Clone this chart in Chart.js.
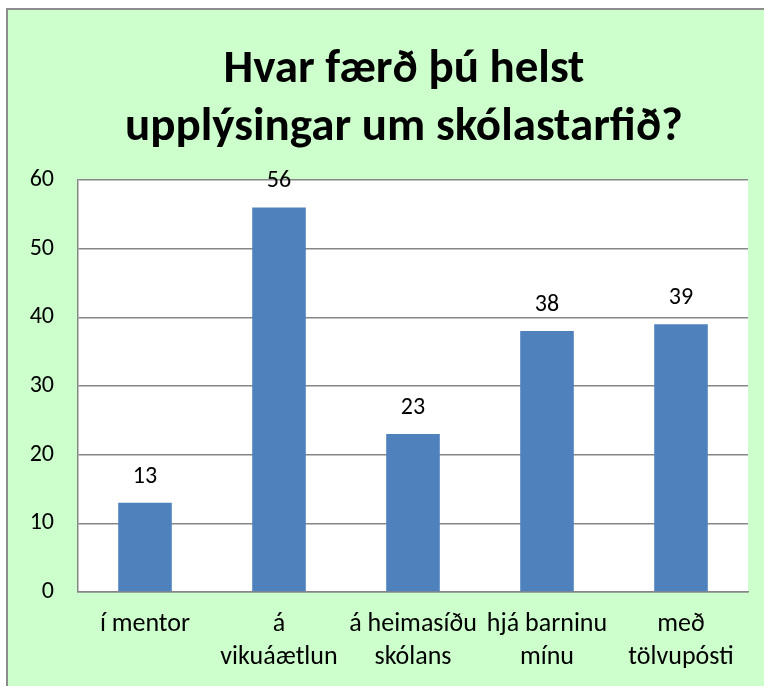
<!DOCTYPE html>
<html>
<head>
<meta charset="utf-8">
<script src="https://cdn.jsdelivr.net/npm/chart.js@4"></script>
<style>
  html, body { margin: 0; padding: 0; background: #ffffff; }
  #wrap { width: 764px; height: 686px; }
</style>
</head>
<body>
<div id="wrap"><canvas id="chart" width="764" height="686"></canvas></div>
<script>
const titleLines = ['Hvar færð þú helst', 'upplýsingar um skólastarfið?'];
const categories = ['í mentor', ['á', 'vikuáætlun'], ['á heimasíðu', 'skólans'], ['hjá barninu', 'mínu'], ['með', 'tölvupósti']];
const values = [13, 56, 23, 38, 39];
const yTicks = { min: 0, max: 60, step: 10 };

const fontFamily = 'Carlito, Lato, sans-serif';

// green frame behind everything
const frame = {
  id: 'frame',
  beforeDraw(chart) {
    const c = chart.ctx;
    c.save();
    c.fillStyle = '#ccffcc';
    c.fillRect(7, 9, 800, 700);
    c.strokeStyle = '#8c8c8c';
    c.lineWidth = 2;
    c.strokeRect(7, 9, 800, 700);
    c.restore();
  }
};

// white plot area
const plotBg = {
  id: 'plotBg',
  beforeDraw(chart) {
    const a = chart.chartArea;
    chart.ctx.save();
    chart.ctx.fillStyle = '#ffffff';
    chart.ctx.fillRect(a.left, a.top, a.right - a.left, a.bottom - a.top);
    chart.ctx.restore();
  }
};

// two line title
const titlePlugin = {
  id: 'titleText',
  afterDraw(chart) {
    const c = chart.ctx;
    c.save();
    c.fillStyle = '#000000';
    c.font = 'bold 47px ' + fontFamily;
    c.textAlign = 'center';
    c.textBaseline = 'middle';
    c.fillText(titleLines[0], 404, 70);
    c.fillText(titleLines[1], 404, 128);
    c.restore();
  }
};

// value above each bar
const barLabels = {
  id: 'barLabels',
  afterDatasetsDraw(chart) {
    const c = chart.ctx;
    const meta = chart.getDatasetMeta(0);
    c.save();
    c.fillStyle = '#000000';
    c.font = '24px ' + fontFamily;
    c.textAlign = 'center';
    c.textBaseline = 'middle';
    meta.data.forEach((bar, i) => {
      c.fillText(String(values[i]), bar.x, bar.y - 26);
    });
    c.restore();
  }
};

new Chart(document.getElementById('chart'), {
  type: 'bar',
  data: {
    labels: categories,
    datasets: [{
      data: values,
      backgroundColor: '#4f81bd',
      borderWidth: 0,
      categoryPercentage: 1,
      barPercentage: 0.4
    }]
  },
  options: {
    responsive: false,
    animation: false,
    events: [],
    layout: { padding: { left: 10, top: 180, right: 16, bottom: 0 } },
    plugins: {
      legend: { display: false },
      title: { display: false },
      tooltip: { enabled: false }
    },
    scales: {
      x: {
        grid: { display: false, drawTicks: false },
        border: { color: '#868686', width: 1.5 },
        ticks: {
          color: '#000000',
          font: { family: fontFamily, size: 26, lineHeight: 1.27 },
          padding: 16,
          maxRotation: 0,
          autoSkip: false
        },
        afterFit(scale) { scale.height = 94; }
      },
      y: {
        min: yTicks.min,
        max: yTicks.max,
        grid: { color: '#868686', lineWidth: 1.5, drawTicks: false },
        border: { color: '#868686', width: 1.5 },
        ticks: {
          stepSize: yTicks.step,
          color: '#000000',
          font: { family: fontFamily, size: 24 },
          padding: 24
        },
        afterFit(scale) { scale.width = 68; }
      }
    }
  },
  plugins: [frame, plotBg, titlePlugin, barLabels]
});
</script>
</body>
</html>
